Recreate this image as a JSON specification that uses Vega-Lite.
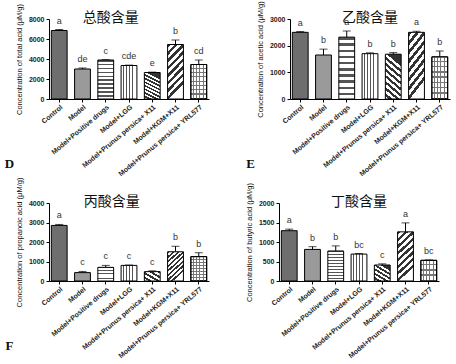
{
  "$schema": "https://vega.github.io/schema/vega-lite/v6.json",
  "padding": {"left": 4, "top": 0, "right": 4, "bottom": 0},
  "background": "white",
  "data": {"values": [
    {"acid": "total", "group": "Control", "value": 6850, "err": 100, "letter": "a"},
    {"acid": "total", "group": "Model", "value": 3000, "err": 100, "letter": "de"},
    {"acid": "total", "group": "Model+Positive drugs", "value": 3900, "err": 30, "letter": "c"},
    {"acid": "total", "group": "Model+LGG", "value": 3350, "err": 40, "letter": "cde"},
    {"acid": "total", "group": "Model+Prunus persica+ X11", "value": 2650, "err": 40, "letter": "e"},
    {"acid": "total", "group": "Model+KGM+X11", "value": 5450, "err": 450, "letter": "b"},
    {"acid": "total", "group": "Model+Prunus persica+ YRL577", "value": 3450, "err": 450, "letter": "cd"},
    {"acid": "acetic", "group": "Control", "value": 2500, "err": 30, "letter": "a"},
    {"acid": "acetic", "group": "Model", "value": 1650, "err": 220, "letter": "b"},
    {"acid": "acetic", "group": "Model+Positive drugs", "value": 2320, "err": 230, "letter": "a"},
    {"acid": "acetic", "group": "Model+LGG", "value": 1700, "err": 30, "letter": "b"},
    {"acid": "acetic", "group": "Model+Prunus persica+ X11", "value": 1680, "err": 60, "letter": "b"},
    {"acid": "acetic", "group": "Model+KGM+X11", "value": 2500, "err": 40, "letter": "a"},
    {"acid": "acetic", "group": "Model+Prunus persica+ YRL577", "value": 1580, "err": 220, "letter": "b"},
    {"acid": "propionic", "group": "Control", "value": 2850, "err": 50, "letter": "a"},
    {"acid": "propionic", "group": "Model", "value": 430, "err": 60, "letter": "c"},
    {"acid": "propionic", "group": "Model+Positive drugs", "value": 700, "err": 100, "letter": "c"},
    {"acid": "propionic", "group": "Model+LGG", "value": 800, "err": 20, "letter": "c"},
    {"acid": "propionic", "group": "Model+Prunus persica+ X11", "value": 480, "err": 40, "letter": "c"},
    {"acid": "propionic", "group": "Model+KGM+X11", "value": 1500, "err": 280, "letter": "b"},
    {"acid": "propionic", "group": "Model+Prunus persica+ YRL577", "value": 1250, "err": 200, "letter": "b"},
    {"acid": "butyric", "group": "Control", "value": 1290, "err": 40, "letter": "a"},
    {"acid": "butyric", "group": "Model", "value": 810, "err": 70, "letter": "b"},
    {"acid": "butyric", "group": "Model+Positive drugs", "value": 770, "err": 130, "letter": "b"},
    {"acid": "butyric", "group": "Model+LGG", "value": 690, "err": 15, "letter": "bc"},
    {"acid": "butyric", "group": "Model+Prunus persica+ X11", "value": 410, "err": 30, "letter": "c"},
    {"acid": "butyric", "group": "Model+KGM+X11", "value": 1260, "err": 230, "letter": "a"},
    {"acid": "butyric", "group": "Model+Prunus persica+ YRL577", "value": 530, "err": 10, "letter": "bc"}
  ]},
  "spacing": 0,
  "vconcat": [
    {"spacing": 36, "hconcat": [
      {
        "width": 160, "height": 80,
        "transform": [{"filter": "datum.acid === 'total'"}, {"calculate": "datum.value + datum.err", "as": "upper"}],
        "encoding": {
          "x": {"field": "group", "type": "nominal", "sort": null, "scale": {"paddingInner": 0.32, "paddingOuter": 0.1},
                "axis": {"title": "D", "titleX": -40, "titleY": 58, "titleFont": "Liberation Serif", "titleFontSize": 13, "titleFontWeight": "bold"}},
          "y": {"type": "quantitative", "scale": {"domain": [0, 8000]}, "axis": {"values": [0, 2000, 4000, 6000, 8000], "format": "d", "title": "Concentration of total acid (μM/g)"}}
        },
        "layer": [
          {"mark": {"type": "rule", "color": "#000", "strokeWidth": 1}, "encoding": {"y": {"field": "value"}, "y2": {"field": "upper"}}},
          {"mark": {"type": "tick", "color": "#000", "thickness": 1, "size": 8}, "encoding": {"y": {"field": "upper"}}},
          {"mark": {"type": "bar", "stroke": "#000", "strokeWidth": 1}, "encoding": {"y": {"field": "value"},
            "fill": {"condition": [
              {"test": "datum.group === 'Control'", "value": "#6e6e6e"},
              {"test": "datum.group === 'Model'", "value": "#9a9a9a"},
              {"test": "datum.group === 'Model+Positive drugs'", "value": {"gradient": "linear", "x1": 0, "y1": 0, "x2": 0, "y2": 1, "stops": [{"offset": 0, "color": "#555"}, {"offset": 0.04, "color": "#555"}, {"offset": 0.04, "color": "#fff"}, {"offset": 0.1, "color": "#fff"}, {"offset": 0.1, "color": "#555"}, {"offset": 0.14, "color": "#555"}, {"offset": 0.14, "color": "#fff"}, {"offset": 0.2, "color": "#fff"}, {"offset": 0.2, "color": "#555"}, {"offset": 0.24, "color": "#555"}, {"offset": 0.24, "color": "#fff"}, {"offset": 0.3, "color": "#fff"}, {"offset": 0.3, "color": "#555"}, {"offset": 0.34, "color": "#555"}, {"offset": 0.34, "color": "#fff"}, {"offset": 0.4, "color": "#fff"}, {"offset": 0.4, "color": "#555"}, {"offset": 0.44, "color": "#555"}, {"offset": 0.44, "color": "#fff"}, {"offset": 0.5, "color": "#fff"}, {"offset": 0.5, "color": "#555"}, {"offset": 0.54, "color": "#555"}, {"offset": 0.54, "color": "#fff"}, {"offset": 0.6, "color": "#fff"}, {"offset": 0.6, "color": "#555"}, {"offset": 0.64, "color": "#555"}, {"offset": 0.64, "color": "#fff"}, {"offset": 0.7, "color": "#fff"}, {"offset": 0.7, "color": "#555"}, {"offset": 0.74, "color": "#555"}, {"offset": 0.74, "color": "#fff"}, {"offset": 0.8, "color": "#fff"}, {"offset": 0.8, "color": "#555"}, {"offset": 0.84, "color": "#555"}, {"offset": 0.84, "color": "#fff"}, {"offset": 0.9, "color": "#fff"}, {"offset": 0.9, "color": "#555"}, {"offset": 0.94, "color": "#555"}, {"offset": 0.94, "color": "#fff"}, {"offset": 1, "color": "#fff"}]}},
              {"test": "datum.group === 'Model+LGG'", "value": {"gradient": "linear", "x1": 0, "y1": 0, "x2": 1, "y2": 0, "stops": [{"offset": 0, "color": "#fff"}, {"offset": 0.1, "color": "#fff"}, {"offset": 0.1, "color": "#555"}, {"offset": 0.17, "color": "#555"}, {"offset": 0.17, "color": "#fff"}, {"offset": 0.3, "color": "#fff"}, {"offset": 0.3, "color": "#555"}, {"offset": 0.37, "color": "#555"}, {"offset": 0.37, "color": "#fff"}, {"offset": 0.5, "color": "#fff"}, {"offset": 0.5, "color": "#555"}, {"offset": 0.57, "color": "#555"}, {"offset": 0.57, "color": "#fff"}, {"offset": 0.7, "color": "#fff"}, {"offset": 0.7, "color": "#555"}, {"offset": 0.77, "color": "#555"}, {"offset": 0.77, "color": "#fff"}, {"offset": 1, "color": "#fff"}]}},
              {"test": "datum.group === 'Model+Prunus persica+ X11'", "value": {"gradient": "linear", "x1": 0.3, "y1": 0, "x2": 0, "y2": 1, "stops": [{"offset": 0, "color": "#333"}, {"offset": 0.06, "color": "#333"}, {"offset": 0.06, "color": "#fff"}, {"offset": 0.125, "color": "#fff"}, {"offset": 0.125, "color": "#333"}, {"offset": 0.185, "color": "#333"}, {"offset": 0.185, "color": "#fff"}, {"offset": 0.25, "color": "#fff"}, {"offset": 0.25, "color": "#333"}, {"offset": 0.31, "color": "#333"}, {"offset": 0.31, "color": "#fff"}, {"offset": 0.375, "color": "#fff"}, {"offset": 0.375, "color": "#333"}, {"offset": 0.435, "color": "#333"}, {"offset": 0.435, "color": "#fff"}, {"offset": 0.5, "color": "#fff"}, {"offset": 0.5, "color": "#333"}, {"offset": 0.56, "color": "#333"}, {"offset": 0.56, "color": "#fff"}, {"offset": 0.625, "color": "#fff"}, {"offset": 0.625, "color": "#333"}, {"offset": 0.685, "color": "#333"}, {"offset": 0.685, "color": "#fff"}, {"offset": 0.75, "color": "#fff"}, {"offset": 0.75, "color": "#333"}, {"offset": 0.81, "color": "#333"}, {"offset": 0.81, "color": "#fff"}, {"offset": 0.875, "color": "#fff"}, {"offset": 0.875, "color": "#333"}, {"offset": 0.935, "color": "#333"}, {"offset": 0.935, "color": "#fff"}, {"offset": 1, "color": "#fff"}]}},
              {"test": "datum.group === 'Model+KGM+X11'", "value": {"gradient": "linear", "x1": 0, "y1": 0, "x2": 0.3, "y2": 1, "stops": [{"offset": 0, "color": "#333"}, {"offset": 0.06, "color": "#333"}, {"offset": 0.06, "color": "#fff"}, {"offset": 0.125, "color": "#fff"}, {"offset": 0.125, "color": "#333"}, {"offset": 0.185, "color": "#333"}, {"offset": 0.185, "color": "#fff"}, {"offset": 0.25, "color": "#fff"}, {"offset": 0.25, "color": "#333"}, {"offset": 0.31, "color": "#333"}, {"offset": 0.31, "color": "#fff"}, {"offset": 0.375, "color": "#fff"}, {"offset": 0.375, "color": "#333"}, {"offset": 0.435, "color": "#333"}, {"offset": 0.435, "color": "#fff"}, {"offset": 0.5, "color": "#fff"}, {"offset": 0.5, "color": "#333"}, {"offset": 0.56, "color": "#333"}, {"offset": 0.56, "color": "#fff"}, {"offset": 0.625, "color": "#fff"}, {"offset": 0.625, "color": "#333"}, {"offset": 0.685, "color": "#333"}, {"offset": 0.685, "color": "#fff"}, {"offset": 0.75, "color": "#fff"}, {"offset": 0.75, "color": "#333"}, {"offset": 0.81, "color": "#333"}, {"offset": 0.81, "color": "#fff"}, {"offset": 0.875, "color": "#fff"}, {"offset": 0.875, "color": "#333"}, {"offset": 0.935, "color": "#333"}, {"offset": 0.935, "color": "#fff"}, {"offset": 1, "color": "#fff"}]}}
            ], "value": {"gradient": "linear", "x1": 0, "y1": 0, "x2": 0, "y2": 1, "stops": [{"offset": 0, "color": "#fff"}, {"offset": 0.09, "color": "#fff"}, {"offset": 0.09, "color": "#777"}, {"offset": 0.125, "color": "#777"}, {"offset": 0.125, "color": "#fff"}, {"offset": 0.215, "color": "#fff"}, {"offset": 0.215, "color": "#777"}, {"offset": 0.25, "color": "#777"}, {"offset": 0.25, "color": "#fff"}, {"offset": 0.34, "color": "#fff"}, {"offset": 0.34, "color": "#777"}, {"offset": 0.375, "color": "#777"}, {"offset": 0.375, "color": "#fff"}, {"offset": 0.465, "color": "#fff"}, {"offset": 0.465, "color": "#777"}, {"offset": 0.5, "color": "#777"}, {"offset": 0.5, "color": "#fff"}, {"offset": 0.59, "color": "#fff"}, {"offset": 0.59, "color": "#777"}, {"offset": 0.625, "color": "#777"}, {"offset": 0.625, "color": "#fff"}, {"offset": 0.715, "color": "#fff"}, {"offset": 0.715, "color": "#777"}, {"offset": 0.75, "color": "#777"}, {"offset": 0.75, "color": "#fff"}, {"offset": 0.84, "color": "#fff"}, {"offset": 0.84, "color": "#777"}, {"offset": 0.875, "color": "#777"}, {"offset": 0.875, "color": "#fff"}, {"offset": 0.965, "color": "#fff"}, {"offset": 0.965, "color": "#777"}, {"offset": 1, "color": "#777"}]}}}},
          {"transform": [{"filter": "datum.group === 'Model+Prunus persica+ YRL577'"}], "mark": {"type": "bar", "stroke": "#000", "strokeWidth": 1, "fill": {"gradient": "linear", "x1": 0, "y1": 0, "x2": 1, "y2": 0, "stops": [{"offset": 0, "color": "rgba(0,0,0,0)"}, {"offset": 0.14, "color": "rgba(0,0,0,0)"}, {"offset": 0.14, "color": "#777"}, {"offset": 0.2, "color": "#777"}, {"offset": 0.2, "color": "rgba(0,0,0,0)"}, {"offset": 0.34, "color": "rgba(0,0,0,0)"}, {"offset": 0.34, "color": "#777"}, {"offset": 0.4, "color": "#777"}, {"offset": 0.4, "color": "rgba(0,0,0,0)"}, {"offset": 0.54, "color": "rgba(0,0,0,0)"}, {"offset": 0.54, "color": "#777"}, {"offset": 0.6, "color": "#777"}, {"offset": 0.6, "color": "rgba(0,0,0,0)"}, {"offset": 0.74, "color": "rgba(0,0,0,0)"}, {"offset": 0.74, "color": "#777"}, {"offset": 0.8, "color": "#777"}, {"offset": 0.8, "color": "rgba(0,0,0,0)"}, {"offset": 1, "color": "rgba(0,0,0,0)"}]}}, "encoding": {"y": {"field": "value"}}},
          {"mark": {"type": "text", "baseline": "bottom", "dy": -4, "fontSize": 9, "color": "#333"}, "encoding": {"y": {"field": "upper"}, "text": {"field": "letter"}}},
          {"data": {"values": [{"acid": "total", "group": "Model+LGG", "value": 0, "err": 0, "title": "总酸含量"}]}, "mark": {"type": "text", "font": "Noto Sans CJK SC", "fontSize": 14, "baseline": "middle", "dx": 5, "dy": -1, "color": "#111"}, "encoding": {"x": {"datum": "Model+Positive drugs"}, "y": {"datum": 8000}, "text": {"field": "title"}}}
        ]
      },
      {
        "width": 160, "height": 80,
        "transform": [{"filter": "datum.acid === 'acetic'"}, {"calculate": "datum.value + datum.err", "as": "upper"}],
        "encoding": {
          "x": {"field": "group", "type": "nominal", "sort": null, "scale": {"paddingInner": 0.32, "paddingOuter": 0.1},
                "axis": {"title": "E", "titleX": -40, "titleY": 58, "titleFont": "Liberation Serif", "titleFontSize": 13, "titleFontWeight": "bold"}},
          "y": {"type": "quantitative", "scale": {"domain": [0, 3000]}, "axis": {"values": [0, 1000, 2000, 3000], "format": "d", "title": "Concentration of acetic acid (μM/g)"}}
        },
        "layer": [
          {"mark": {"type": "rule", "color": "#000", "strokeWidth": 1}, "encoding": {"y": {"field": "value"}, "y2": {"field": "upper"}}},
          {"mark": {"type": "tick", "color": "#000", "thickness": 1, "size": 8}, "encoding": {"y": {"field": "upper"}}},
          {"mark": {"type": "bar", "stroke": "#000", "strokeWidth": 1}, "encoding": {"y": {"field": "value"},
            "fill": {"condition": [
              {"test": "datum.group === 'Control'", "value": "#6e6e6e"},
              {"test": "datum.group === 'Model'", "value": "#9a9a9a"},
              {"test": "datum.group === 'Model+Positive drugs'", "value": {"gradient": "linear", "x1": 0, "y1": 0, "x2": 0, "y2": 1, "stops": [{"offset": 0, "color": "#555"}, {"offset": 0.04, "color": "#555"}, {"offset": 0.04, "color": "#fff"}, {"offset": 0.1, "color": "#fff"}, {"offset": 0.1, "color": "#555"}, {"offset": 0.14, "color": "#555"}, {"offset": 0.14, "color": "#fff"}, {"offset": 0.2, "color": "#fff"}, {"offset": 0.2, "color": "#555"}, {"offset": 0.24, "color": "#555"}, {"offset": 0.24, "color": "#fff"}, {"offset": 0.3, "color": "#fff"}, {"offset": 0.3, "color": "#555"}, {"offset": 0.34, "color": "#555"}, {"offset": 0.34, "color": "#fff"}, {"offset": 0.4, "color": "#fff"}, {"offset": 0.4, "color": "#555"}, {"offset": 0.44, "color": "#555"}, {"offset": 0.44, "color": "#fff"}, {"offset": 0.5, "color": "#fff"}, {"offset": 0.5, "color": "#555"}, {"offset": 0.54, "color": "#555"}, {"offset": 0.54, "color": "#fff"}, {"offset": 0.6, "color": "#fff"}, {"offset": 0.6, "color": "#555"}, {"offset": 0.64, "color": "#555"}, {"offset": 0.64, "color": "#fff"}, {"offset": 0.7, "color": "#fff"}, {"offset": 0.7, "color": "#555"}, {"offset": 0.74, "color": "#555"}, {"offset": 0.74, "color": "#fff"}, {"offset": 0.8, "color": "#fff"}, {"offset": 0.8, "color": "#555"}, {"offset": 0.84, "color": "#555"}, {"offset": 0.84, "color": "#fff"}, {"offset": 0.9, "color": "#fff"}, {"offset": 0.9, "color": "#555"}, {"offset": 0.94, "color": "#555"}, {"offset": 0.94, "color": "#fff"}, {"offset": 1, "color": "#fff"}]}},
              {"test": "datum.group === 'Model+LGG'", "value": {"gradient": "linear", "x1": 0, "y1": 0, "x2": 1, "y2": 0, "stops": [{"offset": 0, "color": "#fff"}, {"offset": 0.1, "color": "#fff"}, {"offset": 0.1, "color": "#555"}, {"offset": 0.17, "color": "#555"}, {"offset": 0.17, "color": "#fff"}, {"offset": 0.3, "color": "#fff"}, {"offset": 0.3, "color": "#555"}, {"offset": 0.37, "color": "#555"}, {"offset": 0.37, "color": "#fff"}, {"offset": 0.5, "color": "#fff"}, {"offset": 0.5, "color": "#555"}, {"offset": 0.57, "color": "#555"}, {"offset": 0.57, "color": "#fff"}, {"offset": 0.7, "color": "#fff"}, {"offset": 0.7, "color": "#555"}, {"offset": 0.77, "color": "#555"}, {"offset": 0.77, "color": "#fff"}, {"offset": 1, "color": "#fff"}]}},
              {"test": "datum.group === 'Model+Prunus persica+ X11'", "value": {"gradient": "linear", "x1": 0.3, "y1": 0, "x2": 0, "y2": 1, "stops": [{"offset": 0, "color": "#333"}, {"offset": 0.06, "color": "#333"}, {"offset": 0.06, "color": "#fff"}, {"offset": 0.125, "color": "#fff"}, {"offset": 0.125, "color": "#333"}, {"offset": 0.185, "color": "#333"}, {"offset": 0.185, "color": "#fff"}, {"offset": 0.25, "color": "#fff"}, {"offset": 0.25, "color": "#333"}, {"offset": 0.31, "color": "#333"}, {"offset": 0.31, "color": "#fff"}, {"offset": 0.375, "color": "#fff"}, {"offset": 0.375, "color": "#333"}, {"offset": 0.435, "color": "#333"}, {"offset": 0.435, "color": "#fff"}, {"offset": 0.5, "color": "#fff"}, {"offset": 0.5, "color": "#333"}, {"offset": 0.56, "color": "#333"}, {"offset": 0.56, "color": "#fff"}, {"offset": 0.625, "color": "#fff"}, {"offset": 0.625, "color": "#333"}, {"offset": 0.685, "color": "#333"}, {"offset": 0.685, "color": "#fff"}, {"offset": 0.75, "color": "#fff"}, {"offset": 0.75, "color": "#333"}, {"offset": 0.81, "color": "#333"}, {"offset": 0.81, "color": "#fff"}, {"offset": 0.875, "color": "#fff"}, {"offset": 0.875, "color": "#333"}, {"offset": 0.935, "color": "#333"}, {"offset": 0.935, "color": "#fff"}, {"offset": 1, "color": "#fff"}]}},
              {"test": "datum.group === 'Model+KGM+X11'", "value": {"gradient": "linear", "x1": 0, "y1": 0, "x2": 0.3, "y2": 1, "stops": [{"offset": 0, "color": "#333"}, {"offset": 0.06, "color": "#333"}, {"offset": 0.06, "color": "#fff"}, {"offset": 0.125, "color": "#fff"}, {"offset": 0.125, "color": "#333"}, {"offset": 0.185, "color": "#333"}, {"offset": 0.185, "color": "#fff"}, {"offset": 0.25, "color": "#fff"}, {"offset": 0.25, "color": "#333"}, {"offset": 0.31, "color": "#333"}, {"offset": 0.31, "color": "#fff"}, {"offset": 0.375, "color": "#fff"}, {"offset": 0.375, "color": "#333"}, {"offset": 0.435, "color": "#333"}, {"offset": 0.435, "color": "#fff"}, {"offset": 0.5, "color": "#fff"}, {"offset": 0.5, "color": "#333"}, {"offset": 0.56, "color": "#333"}, {"offset": 0.56, "color": "#fff"}, {"offset": 0.625, "color": "#fff"}, {"offset": 0.625, "color": "#333"}, {"offset": 0.685, "color": "#333"}, {"offset": 0.685, "color": "#fff"}, {"offset": 0.75, "color": "#fff"}, {"offset": 0.75, "color": "#333"}, {"offset": 0.81, "color": "#333"}, {"offset": 0.81, "color": "#fff"}, {"offset": 0.875, "color": "#fff"}, {"offset": 0.875, "color": "#333"}, {"offset": 0.935, "color": "#333"}, {"offset": 0.935, "color": "#fff"}, {"offset": 1, "color": "#fff"}]}}
            ], "value": {"gradient": "linear", "x1": 0, "y1": 0, "x2": 0, "y2": 1, "stops": [{"offset": 0, "color": "#fff"}, {"offset": 0.09, "color": "#fff"}, {"offset": 0.09, "color": "#777"}, {"offset": 0.125, "color": "#777"}, {"offset": 0.125, "color": "#fff"}, {"offset": 0.215, "color": "#fff"}, {"offset": 0.215, "color": "#777"}, {"offset": 0.25, "color": "#777"}, {"offset": 0.25, "color": "#fff"}, {"offset": 0.34, "color": "#fff"}, {"offset": 0.34, "color": "#777"}, {"offset": 0.375, "color": "#777"}, {"offset": 0.375, "color": "#fff"}, {"offset": 0.465, "color": "#fff"}, {"offset": 0.465, "color": "#777"}, {"offset": 0.5, "color": "#777"}, {"offset": 0.5, "color": "#fff"}, {"offset": 0.59, "color": "#fff"}, {"offset": 0.59, "color": "#777"}, {"offset": 0.625, "color": "#777"}, {"offset": 0.625, "color": "#fff"}, {"offset": 0.715, "color": "#fff"}, {"offset": 0.715, "color": "#777"}, {"offset": 0.75, "color": "#777"}, {"offset": 0.75, "color": "#fff"}, {"offset": 0.84, "color": "#fff"}, {"offset": 0.84, "color": "#777"}, {"offset": 0.875, "color": "#777"}, {"offset": 0.875, "color": "#fff"}, {"offset": 0.965, "color": "#fff"}, {"offset": 0.965, "color": "#777"}, {"offset": 1, "color": "#777"}]}}}},
          {"transform": [{"filter": "datum.group === 'Model+Prunus persica+ YRL577'"}], "mark": {"type": "bar", "stroke": "#000", "strokeWidth": 1, "fill": {"gradient": "linear", "x1": 0, "y1": 0, "x2": 1, "y2": 0, "stops": [{"offset": 0, "color": "rgba(0,0,0,0)"}, {"offset": 0.14, "color": "rgba(0,0,0,0)"}, {"offset": 0.14, "color": "#777"}, {"offset": 0.2, "color": "#777"}, {"offset": 0.2, "color": "rgba(0,0,0,0)"}, {"offset": 0.34, "color": "rgba(0,0,0,0)"}, {"offset": 0.34, "color": "#777"}, {"offset": 0.4, "color": "#777"}, {"offset": 0.4, "color": "rgba(0,0,0,0)"}, {"offset": 0.54, "color": "rgba(0,0,0,0)"}, {"offset": 0.54, "color": "#777"}, {"offset": 0.6, "color": "#777"}, {"offset": 0.6, "color": "rgba(0,0,0,0)"}, {"offset": 0.74, "color": "rgba(0,0,0,0)"}, {"offset": 0.74, "color": "#777"}, {"offset": 0.8, "color": "#777"}, {"offset": 0.8, "color": "rgba(0,0,0,0)"}, {"offset": 1, "color": "rgba(0,0,0,0)"}]}}, "encoding": {"y": {"field": "value"}}},
          {"mark": {"type": "text", "baseline": "bottom", "dy": -4, "fontSize": 9, "color": "#333"}, "encoding": {"y": {"field": "upper"}, "text": {"field": "letter"}}},
          {"data": {"values": [{"acid": "acetic", "group": "Model+LGG", "value": 0, "err": 0, "title": "乙酸含量"}]}, "mark": {"type": "text", "font": "Noto Sans CJK SC", "fontSize": 14, "baseline": "middle", "dx": 0, "dy": -1, "color": "#111"}, "encoding": {"x": {"datum": "Model+LGG"}, "y": {"datum": 3000}, "text": {"field": "title"}}}
        ]
      }
    ]},
    {"spacing": 36, "hconcat": [
      {
        "width": 160, "height": 78,
        "transform": [{"filter": "datum.acid === 'propionic'"}, {"calculate": "datum.value + datum.err", "as": "upper"}],
        "encoding": {
          "x": {"field": "group", "type": "nominal", "sort": null, "scale": {"paddingInner": 0.32, "paddingOuter": 0.1},
                "axis": {"title": "F", "titleX": -40, "titleY": 58, "titleFont": "Liberation Serif", "titleFontSize": 13, "titleFontWeight": "bold"}},
          "y": {"type": "quantitative", "scale": {"domain": [0, 4000]}, "axis": {"values": [0, 1000, 2000, 3000, 4000], "format": "d", "title": "Concentration of propanoic acid (μM/g)"}}
        },
        "layer": [
          {"mark": {"type": "rule", "color": "#000", "strokeWidth": 1}, "encoding": {"y": {"field": "value"}, "y2": {"field": "upper"}}},
          {"mark": {"type": "tick", "color": "#000", "thickness": 1, "size": 8}, "encoding": {"y": {"field": "upper"}}},
          {"mark": {"type": "bar", "stroke": "#000", "strokeWidth": 1}, "encoding": {"y": {"field": "value"},
            "fill": {"condition": [
              {"test": "datum.group === 'Control'", "value": "#6e6e6e"},
              {"test": "datum.group === 'Model'", "value": "#9a9a9a"},
              {"test": "datum.group === 'Model+Positive drugs'", "value": {"gradient": "linear", "x1": 0, "y1": 0, "x2": 0, "y2": 1, "stops": [{"offset": 0, "color": "#555"}, {"offset": 0.07, "color": "#555"}, {"offset": 0.07, "color": "#fff"}, {"offset": 0.2, "color": "#fff"}, {"offset": 0.2, "color": "#555"}, {"offset": 0.27, "color": "#555"}, {"offset": 0.27, "color": "#fff"}, {"offset": 0.4, "color": "#fff"}, {"offset": 0.4, "color": "#555"}, {"offset": 0.47, "color": "#555"}, {"offset": 0.47, "color": "#fff"}, {"offset": 0.6, "color": "#fff"}, {"offset": 0.6, "color": "#555"}, {"offset": 0.67, "color": "#555"}, {"offset": 0.67, "color": "#fff"}, {"offset": 0.8, "color": "#fff"}, {"offset": 0.8, "color": "#555"}, {"offset": 0.87, "color": "#555"}, {"offset": 0.87, "color": "#fff"}, {"offset": 1, "color": "#fff"}]}},
              {"test": "datum.group === 'Model+LGG'", "value": {"gradient": "linear", "x1": 0, "y1": 0, "x2": 1, "y2": 0, "stops": [{"offset": 0, "color": "#fff"}, {"offset": 0.1, "color": "#fff"}, {"offset": 0.1, "color": "#555"}, {"offset": 0.17, "color": "#555"}, {"offset": 0.17, "color": "#fff"}, {"offset": 0.3, "color": "#fff"}, {"offset": 0.3, "color": "#555"}, {"offset": 0.37, "color": "#555"}, {"offset": 0.37, "color": "#fff"}, {"offset": 0.5, "color": "#fff"}, {"offset": 0.5, "color": "#555"}, {"offset": 0.57, "color": "#555"}, {"offset": 0.57, "color": "#fff"}, {"offset": 0.7, "color": "#fff"}, {"offset": 0.7, "color": "#555"}, {"offset": 0.77, "color": "#555"}, {"offset": 0.77, "color": "#fff"}, {"offset": 1, "color": "#fff"}]}},
              {"test": "datum.group === 'Model+Prunus persica+ X11'", "value": {"gradient": "linear", "x1": 1, "y1": 0, "x2": 0, "y2": 1, "stops": [{"offset": 0, "color": "#333"}, {"offset": 0.12, "color": "#333"}, {"offset": 0.12, "color": "#fff"}, {"offset": 0.25, "color": "#fff"}, {"offset": 0.25, "color": "#333"}, {"offset": 0.37, "color": "#333"}, {"offset": 0.37, "color": "#fff"}, {"offset": 0.5, "color": "#fff"}, {"offset": 0.5, "color": "#333"}, {"offset": 0.62, "color": "#333"}, {"offset": 0.62, "color": "#fff"}, {"offset": 0.75, "color": "#fff"}, {"offset": 0.75, "color": "#333"}, {"offset": 0.87, "color": "#333"}, {"offset": 0.87, "color": "#fff"}, {"offset": 1, "color": "#fff"}]}},
              {"test": "datum.group === 'Model+KGM+X11'", "value": {"gradient": "linear", "x1": 0, "y1": 0, "x2": 0.5, "y2": 1, "stops": [{"offset": 0, "color": "#333"}, {"offset": 0.06, "color": "#333"}, {"offset": 0.06, "color": "#fff"}, {"offset": 0.125, "color": "#fff"}, {"offset": 0.125, "color": "#333"}, {"offset": 0.185, "color": "#333"}, {"offset": 0.185, "color": "#fff"}, {"offset": 0.25, "color": "#fff"}, {"offset": 0.25, "color": "#333"}, {"offset": 0.31, "color": "#333"}, {"offset": 0.31, "color": "#fff"}, {"offset": 0.375, "color": "#fff"}, {"offset": 0.375, "color": "#333"}, {"offset": 0.435, "color": "#333"}, {"offset": 0.435, "color": "#fff"}, {"offset": 0.5, "color": "#fff"}, {"offset": 0.5, "color": "#333"}, {"offset": 0.56, "color": "#333"}, {"offset": 0.56, "color": "#fff"}, {"offset": 0.625, "color": "#fff"}, {"offset": 0.625, "color": "#333"}, {"offset": 0.685, "color": "#333"}, {"offset": 0.685, "color": "#fff"}, {"offset": 0.75, "color": "#fff"}, {"offset": 0.75, "color": "#333"}, {"offset": 0.81, "color": "#333"}, {"offset": 0.81, "color": "#fff"}, {"offset": 0.875, "color": "#fff"}, {"offset": 0.875, "color": "#333"}, {"offset": 0.935, "color": "#333"}, {"offset": 0.935, "color": "#fff"}, {"offset": 1, "color": "#fff"}]}}
            ], "value": {"gradient": "linear", "x1": 0, "y1": 0, "x2": 0, "y2": 1, "stops": [{"offset": 0, "color": "#fff"}, {"offset": 0.09, "color": "#fff"}, {"offset": 0.09, "color": "#777"}, {"offset": 0.125, "color": "#777"}, {"offset": 0.125, "color": "#fff"}, {"offset": 0.215, "color": "#fff"}, {"offset": 0.215, "color": "#777"}, {"offset": 0.25, "color": "#777"}, {"offset": 0.25, "color": "#fff"}, {"offset": 0.34, "color": "#fff"}, {"offset": 0.34, "color": "#777"}, {"offset": 0.375, "color": "#777"}, {"offset": 0.375, "color": "#fff"}, {"offset": 0.465, "color": "#fff"}, {"offset": 0.465, "color": "#777"}, {"offset": 0.5, "color": "#777"}, {"offset": 0.5, "color": "#fff"}, {"offset": 0.59, "color": "#fff"}, {"offset": 0.59, "color": "#777"}, {"offset": 0.625, "color": "#777"}, {"offset": 0.625, "color": "#fff"}, {"offset": 0.715, "color": "#fff"}, {"offset": 0.715, "color": "#777"}, {"offset": 0.75, "color": "#777"}, {"offset": 0.75, "color": "#fff"}, {"offset": 0.84, "color": "#fff"}, {"offset": 0.84, "color": "#777"}, {"offset": 0.875, "color": "#777"}, {"offset": 0.875, "color": "#fff"}, {"offset": 0.965, "color": "#fff"}, {"offset": 0.965, "color": "#777"}, {"offset": 1, "color": "#777"}]}}}},
          {"transform": [{"filter": "datum.group === 'Model+Prunus persica+ YRL577'"}], "mark": {"type": "bar", "stroke": "#000", "strokeWidth": 1, "fill": {"gradient": "linear", "x1": 0, "y1": 0, "x2": 1, "y2": 0, "stops": [{"offset": 0, "color": "rgba(0,0,0,0)"}, {"offset": 0.14, "color": "rgba(0,0,0,0)"}, {"offset": 0.14, "color": "#777"}, {"offset": 0.2, "color": "#777"}, {"offset": 0.2, "color": "rgba(0,0,0,0)"}, {"offset": 0.34, "color": "rgba(0,0,0,0)"}, {"offset": 0.34, "color": "#777"}, {"offset": 0.4, "color": "#777"}, {"offset": 0.4, "color": "rgba(0,0,0,0)"}, {"offset": 0.54, "color": "rgba(0,0,0,0)"}, {"offset": 0.54, "color": "#777"}, {"offset": 0.6, "color": "#777"}, {"offset": 0.6, "color": "rgba(0,0,0,0)"}, {"offset": 0.74, "color": "rgba(0,0,0,0)"}, {"offset": 0.74, "color": "#777"}, {"offset": 0.8, "color": "#777"}, {"offset": 0.8, "color": "rgba(0,0,0,0)"}, {"offset": 1, "color": "rgba(0,0,0,0)"}]}}, "encoding": {"y": {"field": "value"}}},
          {"mark": {"type": "text", "baseline": "bottom", "dy": -4, "fontSize": 9, "color": "#333"}, "encoding": {"y": {"field": "upper"}, "text": {"field": "letter"}}},
          {"data": {"values": [{"acid": "propionic", "group": "Model+LGG", "value": 0, "err": 0, "title": "丙酸含量"}]}, "mark": {"type": "text", "font": "Noto Sans CJK SC", "fontSize": 14, "baseline": "middle", "dx": 6, "dy": -1, "color": "#111"}, "encoding": {"x": {"datum": "Model+Positive drugs"}, "y": {"datum": 4000}, "text": {"field": "title"}}}
        ]
      },
      {
        "width": 160, "height": 78,
        "transform": [{"filter": "datum.acid === 'butyric'"}, {"calculate": "datum.value + datum.err", "as": "upper"}],
        "encoding": {
          "x": {"field": "group", "type": "nominal", "sort": null, "scale": {"paddingInner": 0.32, "paddingOuter": 0.1},
                "axis": {"title": null}},
          "y": {"type": "quantitative", "scale": {"domain": [0, 2000]}, "axis": {"values": [0, 500, 1000, 1500, 2000], "format": "d", "title": "Concentration of butyric acid (μM/g)"}}
        },
        "layer": [
          {"mark": {"type": "rule", "color": "#000", "strokeWidth": 1}, "encoding": {"y": {"field": "value"}, "y2": {"field": "upper"}}},
          {"mark": {"type": "tick", "color": "#000", "thickness": 1, "size": 8}, "encoding": {"y": {"field": "upper"}}},
          {"mark": {"type": "bar", "stroke": "#000", "strokeWidth": 1}, "encoding": {"y": {"field": "value"},
            "fill": {"condition": [
              {"test": "datum.group === 'Control'", "value": "#6e6e6e"},
              {"test": "datum.group === 'Model'", "value": "#9a9a9a"},
              {"test": "datum.group === 'Model+Positive drugs'", "value": {"gradient": "linear", "x1": 0, "y1": 0, "x2": 0, "y2": 1, "stops": [{"offset": 0, "color": "#555"}, {"offset": 0.04, "color": "#555"}, {"offset": 0.04, "color": "#fff"}, {"offset": 0.1, "color": "#fff"}, {"offset": 0.1, "color": "#555"}, {"offset": 0.14, "color": "#555"}, {"offset": 0.14, "color": "#fff"}, {"offset": 0.2, "color": "#fff"}, {"offset": 0.2, "color": "#555"}, {"offset": 0.24, "color": "#555"}, {"offset": 0.24, "color": "#fff"}, {"offset": 0.3, "color": "#fff"}, {"offset": 0.3, "color": "#555"}, {"offset": 0.34, "color": "#555"}, {"offset": 0.34, "color": "#fff"}, {"offset": 0.4, "color": "#fff"}, {"offset": 0.4, "color": "#555"}, {"offset": 0.44, "color": "#555"}, {"offset": 0.44, "color": "#fff"}, {"offset": 0.5, "color": "#fff"}, {"offset": 0.5, "color": "#555"}, {"offset": 0.54, "color": "#555"}, {"offset": 0.54, "color": "#fff"}, {"offset": 0.6, "color": "#fff"}, {"offset": 0.6, "color": "#555"}, {"offset": 0.64, "color": "#555"}, {"offset": 0.64, "color": "#fff"}, {"offset": 0.7, "color": "#fff"}, {"offset": 0.7, "color": "#555"}, {"offset": 0.74, "color": "#555"}, {"offset": 0.74, "color": "#fff"}, {"offset": 0.8, "color": "#fff"}, {"offset": 0.8, "color": "#555"}, {"offset": 0.84, "color": "#555"}, {"offset": 0.84, "color": "#fff"}, {"offset": 0.9, "color": "#fff"}, {"offset": 0.9, "color": "#555"}, {"offset": 0.94, "color": "#555"}, {"offset": 0.94, "color": "#fff"}, {"offset": 1, "color": "#fff"}]}},
              {"test": "datum.group === 'Model+LGG'", "value": {"gradient": "linear", "x1": 0, "y1": 0, "x2": 1, "y2": 0, "stops": [{"offset": 0, "color": "#fff"}, {"offset": 0.1, "color": "#fff"}, {"offset": 0.1, "color": "#555"}, {"offset": 0.17, "color": "#555"}, {"offset": 0.17, "color": "#fff"}, {"offset": 0.3, "color": "#fff"}, {"offset": 0.3, "color": "#555"}, {"offset": 0.37, "color": "#555"}, {"offset": 0.37, "color": "#fff"}, {"offset": 0.5, "color": "#fff"}, {"offset": 0.5, "color": "#555"}, {"offset": 0.57, "color": "#555"}, {"offset": 0.57, "color": "#fff"}, {"offset": 0.7, "color": "#fff"}, {"offset": 0.7, "color": "#555"}, {"offset": 0.77, "color": "#555"}, {"offset": 0.77, "color": "#fff"}, {"offset": 1, "color": "#fff"}]}},
              {"test": "datum.group === 'Model+Prunus persica+ X11'", "value": {"gradient": "linear", "x1": 0.6, "y1": 0, "x2": 0, "y2": 1, "stops": [{"offset": 0, "color": "#333"}, {"offset": 0.1, "color": "#333"}, {"offset": 0.1, "color": "#fff"}, {"offset": 0.2, "color": "#fff"}, {"offset": 0.2, "color": "#333"}, {"offset": 0.3, "color": "#333"}, {"offset": 0.3, "color": "#fff"}, {"offset": 0.4, "color": "#fff"}, {"offset": 0.4, "color": "#333"}, {"offset": 0.5, "color": "#333"}, {"offset": 0.5, "color": "#fff"}, {"offset": 0.6, "color": "#fff"}, {"offset": 0.6, "color": "#333"}, {"offset": 0.7, "color": "#333"}, {"offset": 0.7, "color": "#fff"}, {"offset": 0.8, "color": "#fff"}, {"offset": 0.8, "color": "#333"}, {"offset": 0.9, "color": "#333"}, {"offset": 0.9, "color": "#fff"}, {"offset": 1, "color": "#fff"}]}},
              {"test": "datum.group === 'Model+KGM+X11'", "value": {"gradient": "linear", "x1": 0, "y1": 0, "x2": 0.3, "y2": 1, "stops": [{"offset": 0, "color": "#333"}, {"offset": 0.06, "color": "#333"}, {"offset": 0.06, "color": "#fff"}, {"offset": 0.125, "color": "#fff"}, {"offset": 0.125, "color": "#333"}, {"offset": 0.185, "color": "#333"}, {"offset": 0.185, "color": "#fff"}, {"offset": 0.25, "color": "#fff"}, {"offset": 0.25, "color": "#333"}, {"offset": 0.31, "color": "#333"}, {"offset": 0.31, "color": "#fff"}, {"offset": 0.375, "color": "#fff"}, {"offset": 0.375, "color": "#333"}, {"offset": 0.435, "color": "#333"}, {"offset": 0.435, "color": "#fff"}, {"offset": 0.5, "color": "#fff"}, {"offset": 0.5, "color": "#333"}, {"offset": 0.56, "color": "#333"}, {"offset": 0.56, "color": "#fff"}, {"offset": 0.625, "color": "#fff"}, {"offset": 0.625, "color": "#333"}, {"offset": 0.685, "color": "#333"}, {"offset": 0.685, "color": "#fff"}, {"offset": 0.75, "color": "#fff"}, {"offset": 0.75, "color": "#333"}, {"offset": 0.81, "color": "#333"}, {"offset": 0.81, "color": "#fff"}, {"offset": 0.875, "color": "#fff"}, {"offset": 0.875, "color": "#333"}, {"offset": 0.935, "color": "#333"}, {"offset": 0.935, "color": "#fff"}, {"offset": 1, "color": "#fff"}]}}
            ], "value": {"gradient": "linear", "x1": 0, "y1": 0, "x2": 0, "y2": 1, "stops": [{"offset": 0, "color": "#fff"}, {"offset": 0.18, "color": "#fff"}, {"offset": 0.18, "color": "#777"}, {"offset": 0.25, "color": "#777"}, {"offset": 0.25, "color": "#fff"}, {"offset": 0.43, "color": "#fff"}, {"offset": 0.43, "color": "#777"}, {"offset": 0.5, "color": "#777"}, {"offset": 0.5, "color": "#fff"}, {"offset": 0.68, "color": "#fff"}, {"offset": 0.68, "color": "#777"}, {"offset": 0.75, "color": "#777"}, {"offset": 0.75, "color": "#fff"}, {"offset": 1, "color": "#fff"}]}}}},
          {"transform": [{"filter": "datum.group === 'Model+Prunus persica+ YRL577'"}], "mark": {"type": "bar", "stroke": "#000", "strokeWidth": 1, "fill": {"gradient": "linear", "x1": 0, "y1": 0, "x2": 1, "y2": 0, "stops": [{"offset": 0, "color": "rgba(0,0,0,0)"}, {"offset": 0.14, "color": "rgba(0,0,0,0)"}, {"offset": 0.14, "color": "#777"}, {"offset": 0.2, "color": "#777"}, {"offset": 0.2, "color": "rgba(0,0,0,0)"}, {"offset": 0.34, "color": "rgba(0,0,0,0)"}, {"offset": 0.34, "color": "#777"}, {"offset": 0.4, "color": "#777"}, {"offset": 0.4, "color": "rgba(0,0,0,0)"}, {"offset": 0.54, "color": "rgba(0,0,0,0)"}, {"offset": 0.54, "color": "#777"}, {"offset": 0.6, "color": "#777"}, {"offset": 0.6, "color": "rgba(0,0,0,0)"}, {"offset": 0.74, "color": "rgba(0,0,0,0)"}, {"offset": 0.74, "color": "#777"}, {"offset": 0.8, "color": "#777"}, {"offset": 0.8, "color": "rgba(0,0,0,0)"}, {"offset": 1, "color": "rgba(0,0,0,0)"}]}}, "encoding": {"y": {"field": "value"}}},
          {"mark": {"type": "text", "baseline": "bottom", "dy": -4, "fontSize": 9, "color": "#333"}, "encoding": {"y": {"field": "upper"}, "text": {"field": "letter"}}},
          {"data": {"values": [{"acid": "butyric", "group": "Model+LGG", "value": 0, "err": 0, "title": "丁酸含量"}]}, "mark": {"type": "text", "font": "Noto Sans CJK SC", "fontSize": 14, "baseline": "middle", "dx": 0, "dy": -1, "color": "#111"}, "encoding": {"x": {"datum": "Model+LGG"}, "y": {"datum": 2000}, "text": {"field": "title"}}}
        ]
      }
    ]}
  ],
  "config": {
    "font": "Liberation Sans",
    "view": {"stroke": null},
    "axis": {"labelFont": "Liberation Sans", "labelFontSize": 7, "labelFontWeight": "bold", "labelColor": "#222", "domainColor": "#000", "tickColor": "#000", "tickSize": 3, "grid": false, "titleFont": "Liberation Sans", "titleFontSize": 7.5, "titleFontWeight": "normal", "titleColor": "#111"},
    "axisX": {"labelAngle": -40, "labelPadding": 1, "tickSize": 3},
    "axisY": {"titlePadding": 5, "labelPadding": 2}
  }
}
